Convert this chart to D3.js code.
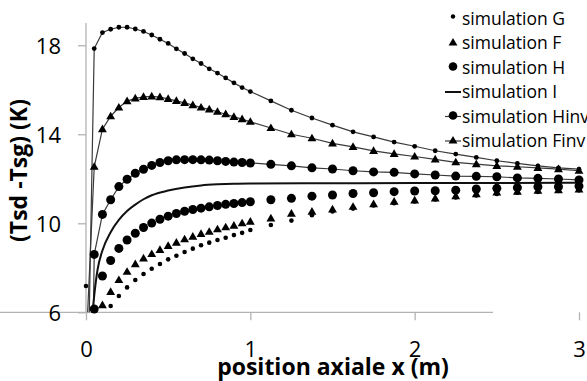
<!DOCTYPE html>
<html><head><meta charset="utf-8">
<script src="https://cdn.jsdelivr.net/npm/d3@7"></script>
<style>
html,body{margin:0;padding:0;background:#fff;}
svg{display:block;font-family:"Open Sans",sans-serif;}
</style></head>
<body><svg id="c" width="587" height="381"></svg>
<script>
// ---- data ----
const xPos = [0, 0.05,0.10,0.15,0.20,0.25,0.30,0.35,0.40,0.45,0.50,0.55,0.60,0.65,0.70,0.75,0.80,0.85,0.90,0.95,1.00,
  1.125,1.25,1.375,1.5,1.625,1.75,1.875,2.0,2.125,2.25,2.375,2.5,2.625,2.75,2.875,3.0];
// lines with markers (x=0 value not present)
const simGinv = [null, 17.85,18.57,18.72,18.81,18.81,18.73,18.62,18.46,18.27,18.08,17.84,17.63,17.39,17.18,16.94,16.75,16.53,16.31,16.10,15.92,
  15.50,15.08,14.73,14.41,14.11,13.88,13.65,13.46,13.26,13.11,12.96,12.81,12.69,12.58,12.49,12.43];
const simFinv = [null, 12.54,14.23,14.81,15.20,15.49,15.61,15.68,15.70,15.67,15.59,15.50,15.41,15.31,15.20,15.12,15.01,14.90,14.78,14.68,14.56,
  14.28,14.00,13.82,13.59,13.43,13.25,13.12,13.00,12.87,12.74,12.66,12.58,12.54,12.49,12.43,12.36];
const simHinv = [null, 8.60,10.40,11.06,11.65,11.98,12.25,12.43,12.60,12.73,12.81,12.85,12.86,12.86,12.85,12.84,12.81,12.78,12.75,12.73,12.71,
  12.65,12.58,12.49,12.44,12.36,12.31,12.29,12.22,12.17,12.12,12.11,12.09,12.04,12.02,11.99,11.95];
// inlet start of the line series [Ginv, Finv, Hinv]
const lineStartX = [0.02, 0.01, 0.045];
const lineStartY = [6.0, 6.0, 6.0];
// markers only
const simH = [null, 6.15,7.63,8.33,8.87,9.25,9.55,9.81,10.01,10.18,10.32,10.44,10.54,10.62,10.68,10.74,10.80,10.85,10.89,10.93,10.97,
  11.06,11.12,11.22,11.27,11.34,11.37,11.42,11.45,11.46,11.49,11.54,11.57,11.60,11.64,11.64,11.67];
const simF = [null, null,6.32,6.92,7.45,7.82,8.16,8.42,8.62,8.80,8.98,9.13,9.28,9.40,9.52,9.62,9.73,9.82,9.89,10.00,10.07,
  10.22,10.43,10.52,10.62,10.74,10.86,10.97,11.03,11.12,11.22,11.31,11.39,11.42,11.46,11.49,11.52];
const simG = [7.18, null,null,6.28,6.73,7.12,7.45,7.72,7.96,8.17,8.38,8.54,8.71,8.86,9.01,9.13,9.25,9.35,9.47,9.57,9.70,
  9.92,10.12,10.36,10.53,10.66,10.80,10.90,10.98,11.07,11.16,11.25,11.32,11.37,11.41,11.45,11.48];
// line without markers
const xI = [0.04,0.05,0.07,0.10,0.15,0.20,0.25,0.30,0.35,0.40,0.50,0.60,0.70,0.80,0.90,1.00,1.50,2.00,2.50,3.00];
const simI = [6.0,6.75,7.90,8.78,9.60,10.15,10.55,10.84,11.08,11.26,11.47,11.61,11.70,11.75,11.78,11.79,11.80,11.81,11.81,11.82];

const xTicks = [0,1,2,3];
const yTicks = [6,10,14,18];
const legendNames = ["simulation G","simulation F","simulation H","simulation I","simulation Hinv","simulation Finv"];
const xTitle = "position axiale x (m)";
const yTitle = "(Tsd -Tsg) (K)";

// ---- drawing ----
const svg = d3.select("#c");
const x = d3.scaleLinear().domain([0,3]).range([86,579]);
const y = d3.scaleLinear().domain([6,19]).range([312.3,23]);
const axisCol = "#b3b3b3";

const xa = svg.append("g").attr("transform","translate(0,312.3)")
  .call(d3.axisBottom(x).tickValues(xTicks).tickFormat(d3.format("d")).tickSize(8).tickPadding(21));
const ya = svg.append("g").attr("transform","translate(86,0)")
  .call(d3.axisLeft(y).tickValues(yTicks).tickFormat(d3.format("d")).tickSize(8).tickPadding(17));
[xa,ya].forEach(a=>{
  a.select(".domain").attr("stroke",axisCol).attr("stroke-width",1.3);
  a.selectAll(".tick line").attr("stroke",axisCol).attr("stroke-width",1.3);
  a.selectAll(".tick text").attr("fill","#000").style("font-size","22px").style("font-family","'Open Sans',sans-serif");
});
ya.selectAll(".tick text").attr("dy","0.36em");
ya.select(".domain").attr("d",`M0,${y(6)}V23`);
xa.select(".domain").attr("d",`M0,0H${579-86}`);

function pts(vals){ return xPos.map((xv,i)=>[xv, vals[i]]).filter(d=>d[1]!=null); }
const lineGen = d3.line().x(d=>x(d[0])).y(d=>y(d[1]));
const lineCol = "#3a3a3a";

const lineSeries = [simGinv, simFinv, simHinv];
lineSeries.forEach((s,k)=>{
  const p = [[lineStartX[k], lineStartY[k]]].concat(pts(s));
  svg.append("path").attr("d", lineGen(p)).attr("fill","none").attr("stroke",lineCol).attr("stroke-width",1.2);
});
svg.append("path").attr("d", d3.line().curve(d3.curveMonotoneX).x((d,i)=>x(xI[i])).y(d=>y(d))(simI))
  .attr("fill","none").attr("stroke","#111").attr("stroke-width",2);

const tri = d3.symbol().type(d3.symbolTriangle).size(34);
function dots(vals, r){
  svg.append("g").selectAll("circle").data(pts(vals)).join("circle")
    .attr("cx",d=>x(d[0])).attr("cy",d=>y(d[1])).attr("r",r).attr("fill","#000");
}
function tris(vals){
  svg.append("g").selectAll("path").data(pts(vals)).join("path")
    .attr("d",tri).attr("transform",d=>`translate(${x(d[0])},${y(d[1])+0.5})`).attr("fill","#000");
}
dots(simGinv, 2.4);
tris(simFinv);
dots(simHinv, 4.5);
dots(simH, 4.5);
tris(simF);
dots(simG, 2.3);

// legend
const lg = svg.append("g");
const ly0 = 18.5, lstep = 24.5, lmx = 453, ltx = 462;
legendNames.forEach((n,i)=>{
  const yy = ly0 + i*lstep;
  if (i>=3) lg.append("line").attr("x1",445).attr("x2",461).attr("y1",yy).attr("y2",yy)
      .attr("stroke", i===3?"#111":lineCol).attr("stroke-width", i===3?2:1.2);
  if (i===0) lg.append("circle").attr("cx",lmx).attr("cy",yy-2).attr("r",2.2);
  if (i===1||i===5) lg.append("path").attr("d",tri).attr("transform",`translate(${lmx},${yy})`);
  if (i===2||i===4) lg.append("circle").attr("cx",lmx).attr("cy",yy-1).attr("r",4.3);
  lg.append("text").attr("x",ltx).attr("y",yy).attr("dy","0.35em").style("font-size","17.5px").text(n);
});

// titles
svg.append("text").attr("x",333).attr("y",375).attr("text-anchor","middle")
  .style("font-size","23px").style("font-weight","bold").text(xTitle);
svg.append("text").attr("transform","translate(27,170.5) rotate(-90)").attr("text-anchor","middle")
  .style("font-size","23px").style("font-weight","bold").text(yTitle);
</script></body></html>
